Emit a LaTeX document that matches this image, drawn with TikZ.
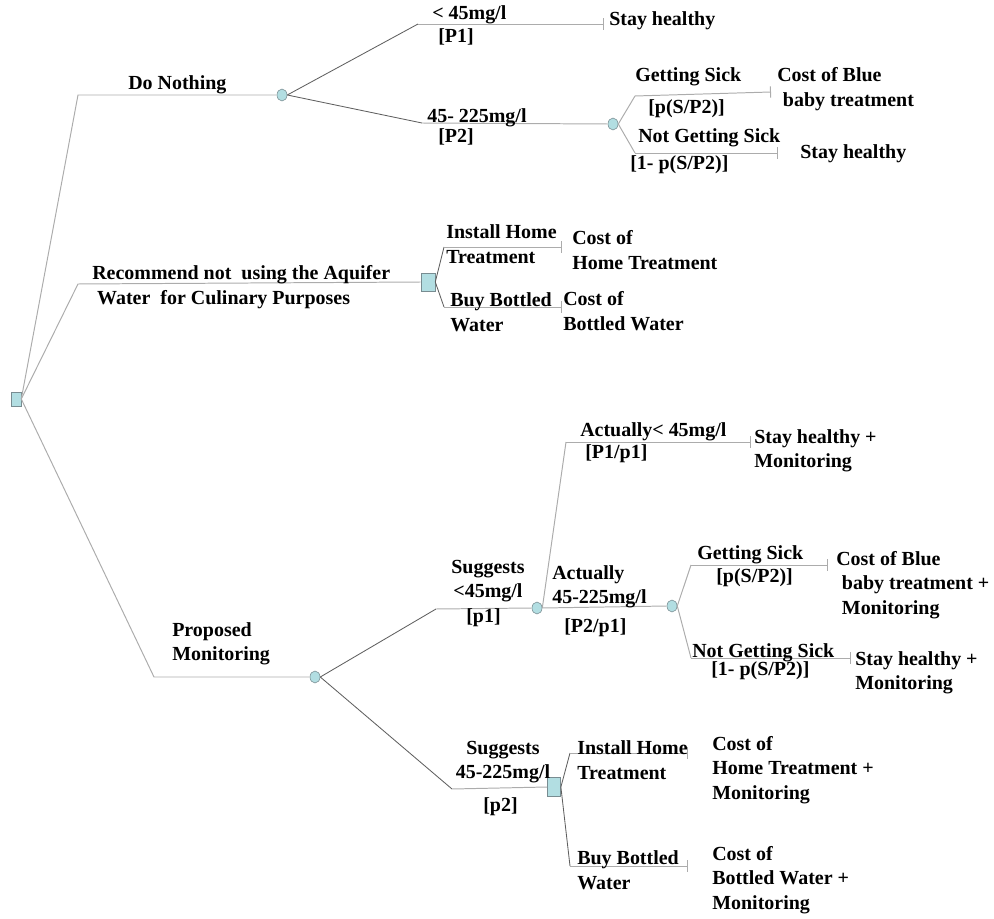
\documentclass[tikz,border=0pt]{standalone}
\usepackage{fontspec}
\setmainfont{Liberation Serif}
\usetikzlibrary{shapes,arrows.meta}
\definecolor{boxfill}{RGB}{178,222,226}
\definecolor{boxline}{RGB}{120,140,145}
\definecolor{lgray}{RGB}{172,172,172}
\definecolor{dgray}{RGB}{95,95,95}
\tikzstyle{dec}=[rectangle,draw=boxline,fill=boxfill,inner sep=0pt,minimum width=.25cm,minimum height=.35cm]
\tikzstyle{chn}=[ellipse,draw=boxline,fill=boxfill,inner sep=0pt,minimum width=.25cm,minimum height=.3cm]
\tikzstyle{br}=[draw=lgray,line width=.7pt]
\tikzstyle{brd}=[draw=dgray,line width=.6pt]
\tikzstyle{leaf}=[br,-{Bar[width=8pt]}]
\tikzstyle{txt}=[anchor=west,inner sep=0pt,font=\bfseries\fontsize{14.2}{17.4}\selectfont,align=left]
\tikzstyle{txtc}=[txt,anchor=center,align=center]

\begin{document}
\begin{tikzpicture}[x=.025cm,y=-.025cm]
	\useasboundingbox (0,0) rectangle (994,919);
	\node[dec] (root) at (16,399) {};
	\node[chn] (dn) at (282,95) {};
	\node[chn] (dnsick) at (613,124) {};
	\node[dec,minimum width=.35cm,minimum height=.45cm] (rec) at (428,282) {};
	\node[chn] (pm) at (315,677) {};
	\node[chn] (lo) at (537,608) {};
	\node[chn] (losick) at (672,606) {};
	\node[dec,minimum width=.33cm,minimum height=.48cm] (hi) at (554,787) {};

	\coordinate (dn0) at (78,95);
	\coordinate (rec0) at (78,284);
	\coordinate (pm0) at (154,677);
	\coordinate (p1a) at (418,24);
	\coordinate (p1b) at (604,24);
	\coordinate (p2a) at (422,123);
	\coordinate (sk1a) at (635,96);
	\coordinate (sk1b) at (771,92);
	\coordinate (ns1a) at (635,153);
	\coordinate (ns1b) at (778,153);
	\coordinate (ht1a) at (444,247);
	\coordinate (ht1b) at (562,247);
	\coordinate (bw1a) at (444,307);
	\coordinate (bw1b) at (562,307);
	\coordinate (loa) at (436,609);
	\coordinate (hia) at (452,789);
	\coordinate (aca) at (566,442);
	\coordinate (acb) at (751,442);
	\coordinate (sk2a) at (691,565);
	\coordinate (sk2b) at (828,565);
	\coordinate (ns2a) at (691,658);
	\coordinate (ns2b) at (851,658);
	\coordinate (ht2a) at (570,753);
	\coordinate (ht2b) at (688,753);
	\coordinate (bw2a) at (570,866);
	\coordinate (bw2b) at (688,866);

	\draw[br] (root.east) -- (dn0) -- (dn.west);
	\draw[br] (root.east) -- (rec0) -- (rec.west);
	\draw[br] (root.east) -- (pm0) -- (pm.west);
	\draw[brd] (dn.east) -- (p1a);
	\draw[leaf] (p1a) -- (p1b);
	\draw[brd] (dn.east) -- (p2a);
	\draw[br] (p2a) -- (dnsick.west);
	\draw[br] (dnsick.east) -- (sk1a);
	\draw[leaf] (sk1a) -- (sk1b);
	\draw[br] (dnsick.east) -- (ns1a);
	\draw[leaf] (ns1a) -- (ns1b);
	\draw[brd] (rec.east) -- (ht1a);
	\draw[leaf] (ht1a) -- (ht1b);
	\draw[brd] (rec.east) -- (bw1a);
	\draw[leaf] (bw1a) -- (bw1b);
	\draw[brd] (pm.east) -- (loa);
	\draw[br] (loa) -- (lo.west);
	\draw[brd] (pm.east) -- (hia);
	\draw[br] (hia) -- (hi.west);
	\draw[br] (lo.east) -- (aca);
	\draw[leaf] (aca) -- (acb);
	\draw[br] (lo.east) -- (losick.west);
	\draw[br] (losick.east) -- (sk2a);
	\draw[leaf] (sk2a) -- (sk2b);
	\draw[br] (losick.east) -- (ns2a);
	\draw[leaf] (ns2a) -- (ns2b);
	\draw[brd] (hi.east) -- (ht2a);
	\draw[leaf] (ht2a) -- (ht2b);
	\draw[brd] (hi.east) -- (bw2a);
	\draw[leaf] (bw2a) -- (bw2b);

	\node[txt] (tdn) at (128,85) {Do Nothing};
	\node[txt] (tp1) at (432,15) {< 45mg/l};
	\node[txt] (tP1) at (438,37) {[P1]};
	\node[txt] (tsh1) at (609,21) {Stay healthy};
	\node[txt] (tp2) at (427,118) {45- 225mg/l};
	\node[txt] (tP2) at (438,137) {[P2]};
	\node[txt] (tsk1) at (635,77) {Getting Sick};
	\node[txt] (tps1) at (648,109) {[p(S/P2)]};
	\node[txt] (tcb1) at (777,89) {Cost of Blue\\\hspace*{4pt}baby treatment};
	\node[txt] (tns1) at (638,138) {Not Getting Sick};
	\node[txt] (tpn1) at (630,165) {[1- p(S/P2)]};
	\node[txt] (tsh2) at (800,154) {Stay healthy};

	\node[txt] (trec) at (92,287) {Recommend not~ using the Aquifer\\\hspace*{3.5pt}Water~ for Culinary Purposes};
	\node[txt] (tht1) at (446,244) {Install Home\\Treatment};
	\node[txt] (tch1) at (572,250) {Cost of\\Home Treatment};
	\node[txt] (tbw1) at (450,312) {Buy Bottled\\Water};
	\node[txt] (tcw1) at (563,311) {Cost of\\Bottled Water};

	\node[txt] (tpm) at (172,644) {Proposed\\Monitoring};
	\node[txtc] (tlo) at (488,581) {Suggests\\<45mg/l};
	\node[txt] (tplo) at (466,618) {[p1]};
	\node[txt] (tac) at (580,432) {Actually< 45mg/l};
	\node[txt] (tPac) at (585,454) {[P1/p1]};
	\node[txt] (tshm1) at (754,451) {Stay healthy +\\Monitoring};
	\node[txt] (tac2) at (552,587) {Actually\\45-225mg/l};
	\node[txt] (tPac2) at (564,628) {[P2/p1]};
	\node[txt] (tsk2) at (697,555) {Getting Sick};
	\node[txt] (tps2) at (716,578) {[p(S/P2)]};
	\node[txt] (tcb2) at (836,585) {Cost of Blue\\\hspace*{4pt}baby treatment +\\\hspace*{4pt}Monitoring};
	\node[txt] (tns2) at (692,653) {Not Getting Sick};
	\node[txt] (tpn2) at (711,671) {[1- p(S/P2)]};
	\node[txt] (tshm2) at (855,673) {Stay healthy +\\Monitoring};

	\node[txtc] (thi) at (503,762) {Suggests\\45-225mg/l};
	\node[txt] (tphi) at (483,807) {[p2]};
	\node[txt] (tht2) at (577,760) {Install Home\\Treatment};
	\node[txt] (tch2) at (712,770) {Cost of\\Home Treatment +\\Monitoring};
	\node[txt] (tbw2) at (577,870) {Buy Bottled\\Water};
	\node[txt] (tcw2) at (712,880) {Cost of\\Bottled Water +\\Monitoring};
	%\node[txt] at (16,420) {root};
\end{tikzpicture}
\end{document}
